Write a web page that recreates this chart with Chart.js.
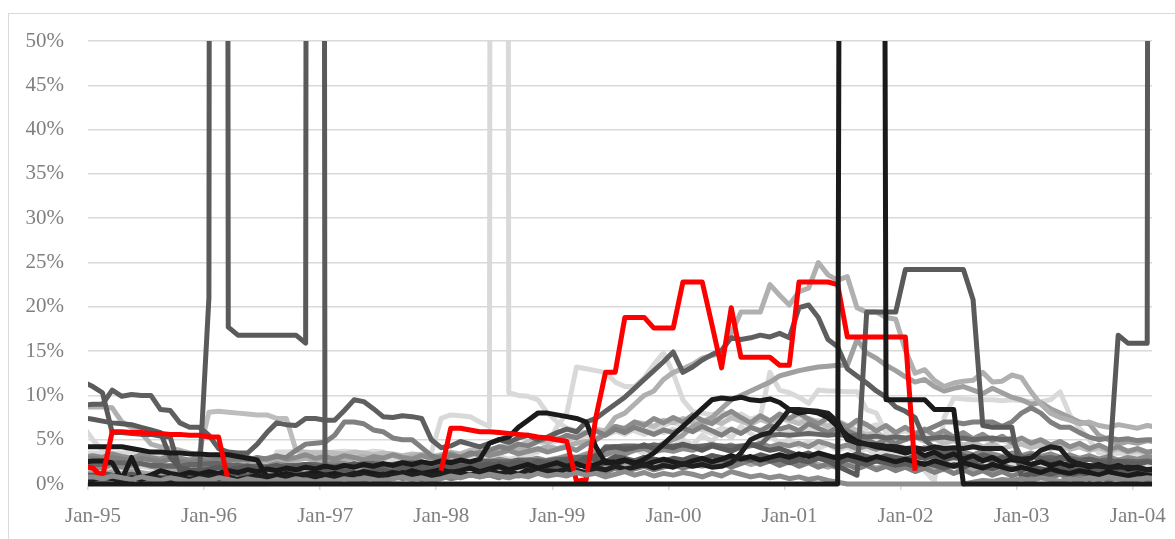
<!DOCTYPE html>
<html>
<head>
<meta charset="utf-8">
<title>Monthly rates, Jan-95 to Mar-04</title>
<script src="https://cdn.jsdelivr.net/npm/chart.js@4.4.1/dist/chart.umd.min.js"></script>
<style>
  html, body { margin: 0; padding: 0; background: #fff; overflow: hidden; }
  #frame { position: absolute; left: 8px; top: 13px; width: 1300px; height: 700px;
           border: 1.5px solid #d9d9d9; box-sizing: border-box; }
  #wrap { position: absolute; left: 0; top: 0; width: 1175px; height: 539px; }
</style>
</head>
<body>
<div id="frame"></div>
<div id="wrap"><canvas id="chart" width="1175" height="539"></canvas></div>
<script>
// one value per month, Dec-94 first, then Jan-95 ... Mar-04 (values in %)
const tickMonths = [0, 12, 24, 36, 48, 60, 72, 84, 96, 108];
const tickLabels = ["Jan-95", "Jan-96", "Jan-97", "Jan-98", "Jan-99", "Jan-00", "Jan-01", "Jan-02", "Jan-03", "Jan-04"];
const yTicks = [0, 5, 10, 15, 20, 25, 30, 35, 40, 45, 50];

const black1 = [0,
  0,0,0,0,0,0,0,0,0,0,0,0,
  0,0,0,0,0,0,0,0,0,0,0,0,
  0,0,0,0,0,0,0,0,0,0,0,0,
  0,0,0,0,0,0,0,0,0,0,0,0,
  0,0,0,0,0,0,0,0,0,0,0,0,
  0,0,0,0,0,0,0,0,0,0,0,0,
  0,0,0,0,0,0,400,400,400,400,9.5,9.5,
  9.5,9.5,9.5,8.4,8.4,8.4,0,0,0,0,0,0,
  0,0,0,0,0,0,0,0,0,0,0,0,
  0,0,0];

const zero1 = [0.8,
  0.8,0.6,0.9,0.7,0.5,0.8,0.6,0.4,0.7,0.5,0.3,0.6,
  0.4,0.7,0.5,0.3,0.6,0.4,0.2,0.5,0.3,0.6,0.4,0.2,
  0.5,0.3,0.6,0.4,0.7,0.5,0.3,0.6,0.8,0.5,0.7,0.4,
  0.6,0.9,0.7,1.0,0.8,1.1,0.9,0.7,1.0,0.8,1.2,0.9,
  1.1,0.9,1.3,1.0,1.2,0.8,1.1,1.4,1.0,1.3,0.9,1.2,
  1.0,1.3,1.1,0.8,1.2,0.9,1.4,1.1,0.8,1.0,0.7,0.9,
  0.6,0.8,0.5,0.7,0.4,0.2,0,0,0,0,0,0,
  0,0,0,0,0,0,0,0.2,0.4,0.3,0.5,0.4,
  0.6,0.4,0.7,0.5,0.3,0.6,0.4,0.7,0.5,0.8,0.6,0.4,
  0.5,0.7,0.6];

// red is hidden under the zero line while it is out of the market
const red = [2.0,
  1.8,0.8,5.9,5.9,5.8,5.8,5.7,5.7,5.6,5.6,5.5,5.5,
  5.3,5.3,0.3,null,null,null,null,null,null,null,null,null,
  null,null,null,null,null,null,null,null,null,null,null,null,
  1.5,6.3,6.3,6.1,5.9,5.9,5.8,5.7,5.6,5.5,5.3,5.2,
  5.0,4.8,0.3,0.5,7.5,12.6,12.6,18.8,18.8,18.8,17.6,17.6,
  17.6,22.8,22.8,22.8,18.0,13.1,19.9,14.3,14.3,14.3,14.3,13.4,
  13.4,22.8,22.8,22.8,22.8,22.5,16.6,16.6,16.6,16.6,16.6,16.6,
  16.6,1.5,null,null,null,null,null,null,null,null,null,null,
  null,null,null,null,null,null,null,null,null,null,null,null,
  null,null,null];

const black2 = [4.2,
  4.2,4.2,4.2,4.2,4.0,3.8,3.6,3.6,3.5,3.5,3.4,3.4,
  3.3,3.3,3.3,3.1,2.9,2.7,0.8,1.0,1.2,0.9,1.1,1.3,
  1.0,1.2,0.9,1.1,1.4,1.2,1.0,1.3,1.1,1.5,1.2,1.4,
  1.6,1.3,1.5,1.8,1.4,1.7,2.0,1.6,1.9,2.2,1.8,2.1,
  2.4,2.0,2.3,1.9,2.2,2.6,2.3,2.7,2.4,2.1,2.5,2.8,
  2.5,2.2,2.6,2.9,2.5,2.8,3.2,2.8,3.1,2.7,3.0,3.3,
  3.0,3.4,3.1,3.5,3.2,2.9,3.3,3.0,2.7,3.1,2.8,2.5,
  2.8,2.5,2.2,2.6,2.3,2.0,2.4,2.1,1.8,2.2,1.9,1.6,
  1.9,1.6,1.3,1.7,1.4,1.2,1.5,1.3,1.0,1.4,1.1,0.9,
  1.2,1.0,0.8];

const black3 = [2.5,
  2.6,2.6,2.4,0.5,3.0,0.6,1.0,1.5,1.2,1.0,1.3,1.1,
  1.4,1.2,1.5,1.3,1.6,1.4,1.7,1.5,1.8,1.6,1.9,1.7,
  2.0,1.8,2.1,1.9,2.2,2.0,2.3,2.1,2.4,2.2,2.5,2.3,
  2.6,2.4,2.7,2.5,2.8,4.6,5.0,5.3,6.4,7.2,8.0,8.0,
  7.8,7.6,7.4,7.0,4.2,2.4,2.5,2.7,2.3,2.8,3.5,4.5,
  5.5,6.5,7.5,8.5,9.5,9.7,9.6,9.8,9.5,9.4,9.6,9.2,
  8.4,8.0,8.2,8.0,7.5,6.5,5.5,4.8,4.5,4.2,4.0,3.8,
  3.5,3.8,3.2,3.6,3.0,3.4,2.8,3.2,2.6,3.0,2.4,2.8,
  2.6,2.2,2.5,2.1,2.4,2.0,2.3,1.9,2.2,1.8,2.1,1.7,
  1.9,1.6,1.8];

const black4 = [0.6,
  0.5,0.8,0.6,0.3,0.7,0.5,0.9,0.6,0.4,0.8,0.5,0.7,
  0.9,0.6,0.8,0.5,0.7,1.0,0.8,0.6,0.9,0.7,1.1,0.8,
  1.0,0.7,0.9,1.2,1.0,0.8,1.1,0.9,1.3,1.0,1.2,0.9,
  1.1,1.4,1.2,1.0,1.3,1.5,1.2,1.4,1.1,1.6,1.3,1.5,
  1.4,1.7,1.5,1.3,1.8,1.6,2.0,1.7,1.9,2.2,1.8,2.1,
  1.9,2.3,2.0,2.2,1.9,2.0,2.4,3.5,5.0,5.5,5.8,7.0,
  8.4,8.4,8.3,8.2,8.0,7.0,5.0,4.6,4.5,4.4,4.3,4.2,
  4.0,4.1,3.9,4.2,4.0,4.1,4.0,4.2,4.0,4.0,4.0,3.0,
  2.8,2.9,3.8,4.2,4.0,2.7,2.2,2.1,2.0,1.9,1.9,1.9,
  1.8,1.6,1.6];

const dark1 = [1.0,
  1.0,1.2,1.0,0.9,1.1,0.8,0.9,0.7,0.8,0.6,0.7,0.8,
  21,1000,17.7,16.8,16.8,16.8,16.8,16.8,16.8,16.8,15.9,1000,
  0.2,0.8,1.2,1.0,1.5,1.3,1.6,1.4,1.2,1.5,1.8,1.6,
  2.0,1.7,1.9,2.2,2.0,1.8,2.3,2.1,2.4,2.0,2.6,2.2,
  2.5,2.8,2.4,3.0,2.7,2.5,3.1,2.9,2.6,3.0,2.8,2.5,
  2.7,2.4,2.9,2.6,3.2,2.8,2.5,2.9,2.7,3.0,2.6,2.8,
  2.4,2.7,2.5,2.9,2.6,2.3,2.8,2.5,2.2,2.6,2.4,2.1,
  2.3,2.0,2.4,2.1,1.8,2.2,1.9,2.3,2.0,1.7,2.1,1.8,
  1.6,1.9,1.7,1.5,1.8,1.4,1.7,1.5,1.3,1.6,1.4,1.2,
  1.5,1.3,1.4];

const dark2 = [7.5,
  7.3,7.1,6.9,6.8,6.7,6.4,6.1,5.8,3.0,1.8,1.6,1.5,
  1.7,1.9,1.6,1.8,2.0,1.7,1.9,2.1,1.8,2.0,2.2,1.9,
  2.1,1.8,2.0,2.3,2.1,1.9,2.2,2.0,1.8,2.1,1.9,1.7,
  1.9,2.2,2.0,1.8,2.1,2.3,2.0,2.2,2.5,2.3,2.1,2.4,
  2.2,2.5,2.3,2.8,3.2,4.0,4.2,3.9,4.1,4.4,4.0,4.3,
  4.1,4.5,4.2,3.8,4.3,4.0,3.7,4.2,4.5,4.1,3.8,4.0,
  3.6,3.2,3.5,3.0,2.6,2.0,1.5,1.0,19.4,19.4,19.4,19.4,
  24.2,24.2,24.2,24.2,24.2,24.2,24.2,20.8,6.6,6.4,6.4,6.4,
  0.8,1.2,0.9,1.1,1.4,1.0,1.3,1.1,0.8,1.2,1.0,0.9,
  1.1,0.8,1.0];

const dark3 = [11.5,
  11.0,10.3,5.8,5.8,5.7,5.6,5.6,5.4,5.3,1.5,1.2,1.0,
  0.8,1.0,1.3,1.1,0.9,1.2,1.0,0.8,1.1,1.3,1.0,1.2,
  1.4,1.2,1.5,1.3,1.1,1.4,1.6,1.3,1.5,1.7,1.4,1.6,
  1.8,1.5,1.7,2.0,1.8,1.6,1.9,1.7,2.1,1.9,1.7,2.0,
  1.8,2.1,1.9,2.3,2.0,2.4,2.2,2.6,2.3,2.5,2.8,2.6,
  2.9,2.7,3.1,2.8,3.2,3.0,2.7,3.1,2.9,3.3,3.0,2.8,
  3.1,2.9,3.3,3.0,2.7,3.2,2.9,3.4,3.1,2.8,3.2,3.0,
  2.8,3.1,2.9,3.2,2.7,3.0,2.8,2.5,2.9,2.6,3.0,2.7,
  2.5,2.2,2.6,2.3,2.0,2.4,2.1,1.8,1.5,0.8,16.8,15.9,
  15.9,15.9,1000];

const dark5 = [8.9,
  9.0,9.0,10.6,9.9,10.1,10.0,10.0,8.4,8.3,6.9,6.4,6.4,
  5.5,4.0,3.6,3.5,3.5,4.5,5.8,6.9,6.7,6.6,7.4,7.4,
  7.2,7.2,8.3,9.5,9.3,8.5,7.6,7.5,7.7,7.6,7.4,5.0,
  4.1,4.3,4.8,4.5,4.2,4.6,5.0,4.7,5.2,5.5,5.0,5.3,
  5.8,6.2,5.9,7.0,7.4,8.2,9.0,9.8,10.8,11.8,12.8,13.8,
  14.9,12.6,13.2,14.0,14.6,15.1,16.5,16.3,16.5,16.8,16.6,17.0,
  16.5,19.9,20.2,18.8,16.3,15.5,13.0,12.2,11.4,10.5,9.8,8.7,
  8.2,7.5,5.0,4.0,3.5,3.8,3.2,2.9,3.3,3.0,2.7,3.1,
  2.8,3.2,2.9,2.6,3.0,2.7,2.4,2.8,2.5,2.3,2.6,2.4,
  2.2,2.5,2.3];

const dark7 = [2.2,
  2.2,2.2,2.4,2.4,2.3,2.3,2.1,2.1,2.0,2.0,2.2,2.2,
  2.3,2.3,2.1,2.1,2.0,2.0,1.9,1.9,2.1,2.1,2.2,2.2,
  2.0,2.0,2.1,2.1,2.3,2.3,2.2,2.2,2.4,2.4,2.3,2.3,
  2.5,2.5,2.4,2.4,2.6,2.6,2.5,2.5,2.7,2.7,2.6,2.6,
  2.8,2.8,3.0,3.0,2.9,4.2,4.2,4.3,4.3,4.2,4.4,4.3,
  4.3,4.4,4.2,4.3,4.4,4.3,4.2,4.3,4.4,4.4,5.5,5.6,
  5.5,5.6,5.7,5.6,5.5,5.6,5.4,5.5,5.3,5.4,5.2,5.3,
  5.2,5.3,5.1,5.2,5.3,5.1,5.2,5.0,5.1,5.2,5.0,5.1,
  3.0,3.1,2.9,3.0,2.8,2.9,2.7,2.8,2.6,2.7,2.5,2.6,
  2.5,2.6,2.4];

const mid1 = [2.8,
  2.9,2.7,3.0,2.8,2.6,2.9,2.7,2.5,2.8,2.6,2.4,2.7,
  2.5,2.8,2.6,2.9,2.7,3.0,2.8,3.1,3.0,3.8,4.5,4.6,
  4.7,5.5,7.0,7.0,6.8,6.1,5.9,5.2,5.0,5.0,4.1,3.2,
  2.8,3.2,3.0,3.5,3.3,3.8,4.2,4.0,4.5,4.3,4.8,5.2,
  5.0,5.5,5.2,5.8,6.0,5.5,6.2,5.8,6.4,6.0,5.6,6.1,
  5.8,6.3,5.9,6.5,6.0,5.5,6.2,5.7,6.4,6.0,6.6,6.2,
  6.5,6.0,6.8,6.3,5.8,6.4,6.0,5.5,5.0,4.5,5.0,4.6,
  5.0,5.5,6.0,6.5,7.0,7.0,6.8,7.0,7.0,7.0,6.5,7.0,
  8.0,8.6,8.0,7.0,6.4,6.4,5.8,5.3,5.0,5.2,5.0,5.1,
  4.9,5.0,5.0];

const mid3 = [1.8,
  2.0,1.8,2.2,1.9,2.1,2.3,2.0,1.8,2.1,1.9,2.2,2.0,
  1.8,2.0,2.2,1.9,2.1,1.8,2.0,2.3,2.1,1.9,2.2,2.0,
  2.2,2.5,2.3,2.1,2.4,2.6,2.3,2.1,2.4,2.7,2.5,2.2,
  2.0,2.3,2.6,2.4,2.2,2.5,2.8,2.6,2.4,2.7,2.9,2.6,
  2.8,3.1,2.9,3.2,3.5,3.3,3.7,3.4,3.8,4.0,3.6,3.9,
  3.7,4.0,3.8,4.2,4.5,4.1,4.4,4.0,4.3,4.6,4.2,4.5,
  4.3,4.6,4.2,4.8,4.5,4.1,4.4,4.0,4.3,3.9,4.2,3.8,
  4.0,3.7,4.1,3.8,3.5,3.9,3.6,3.3,3.7,3.4,3.1,3.5,
  3.2,3.5,3.1,3.4,3.0,3.3,2.9,3.2,2.8,3.1,2.7,3.0,
  2.8,3.1,2.9];

const mid4 = [0.4,
  0.5,0.3,0.6,0.4,0.7,0.5,0.3,0.6,0.4,0.2,0.5,0.3,
  0.6,0.4,0.2,0.5,0.3,0.6,0.4,0.7,0.5,0.3,0.6,0.4,
  0.7,0.5,0.8,0.6,0.4,0.7,0.5,0.9,0.6,0.8,0.5,0.7,
  0.9,0.6,0.8,1.1,0.8,1.0,0.7,1.2,0.9,1.1,1.4,1.0,
  1.3,1.0,1.5,1.2,1.6,1.3,1.8,1.4,1.7,2.0,1.6,1.9,
  2.2,1.8,2.1,2.5,2.0,2.4,1.9,2.3,2.7,2.2,2.6,2.1,
  2.5,2.0,2.4,1.9,2.3,1.8,2.2,1.7,2.1,1.6,2.0,1.5,
  1.9,1.4,1.8,1.3,1.7,1.2,1.6,1.1,1.5,1.0,1.4,0.9,
  1.3,0.8,1.2,0.7,1.1,0.6,1.0,0.5,0.9,0.4,0.8,0.3,
  0.7,0.5,0.6];

const mid7 = [3.0,
  3.2,3.0,3.4,3.1,2.9,3.3,3.0,2.8,3.2,2.9,2.7,3.0,
  2.8,3.1,2.9,2.6,3.0,2.7,2.9,3.2,2.8,3.0,3.3,2.9,
  3.1,2.8,3.2,3.0,2.7,3.1,2.9,3.3,3.0,2.8,3.2,2.9,
  3.1,3.4,3.0,3.3,3.6,3.2,3.5,3.8,3.4,3.7,4.0,3.6,
  3.9,4.2,3.8,4.5,5.0,5.6,6.5,6.2,7.0,6.6,7.4,6.9,
  7.5,7.0,7.8,7.2,6.8,7.6,8.2,7.5,6.9,7.7,7.1,7.9,
  7.4,8.0,7.3,6.8,7.5,7.0,6.4,7.2,6.7,6.0,6.6,5.8,
  6.4,5.7,6.2,5.5,6.0,5.3,5.8,5.1,5.6,4.9,5.4,4.7,
  5.2,4.6,5.0,4.4,4.8,4.2,4.6,4.0,4.4,3.9,4.2,3.7,
  4.0,3.6,3.8];

const grey25 = [8.7,
  8.7,8.7,8.6,7.0,6.4,5.8,4.5,4.2,4.0,3.8,3.5,3.2,
  3.0,2.8,2.6,2.5,2.7,2.4,2.6,2.8,2.5,2.7,2.9,2.6,
  2.8,3.0,2.7,2.9,3.1,2.8,3.0,3.2,2.9,3.1,3.3,3.0,
  3.2,3.5,3.3,3.6,3.4,3.7,3.5,3.8,4.0,3.7,3.9,4.2,
  4.0,4.3,4.6,4.8,5.0,6.0,7.5,8.0,9.0,10.0,10.5,11.8,
  12.6,13.0,13.5,14.2,14.5,14.8,17.0,19.4,19.4,19.4,22.5,21.3,
  20.2,21.7,22.1,25.0,23.6,23.0,23.4,19.9,19.4,19.4,18.8,18.6,
  15.1,12.5,12.9,11.7,11.0,11.4,11.6,11.7,12.6,11.5,11.6,12.3,
  12.0,10.4,9.0,8.0,7.5,7.2,6.8,7.0,6.6,6.4,6.7,6.5,
  6.3,6.6,6.4];

const grey13 = [1.0,
  1.1,0.9,1.2,1.0,1.3,1.1,0.9,1.2,1.0,1.4,1.2,1.0,
  1.3,1.1,1.4,1.2,1.0,1.3,1.5,1.2,1.4,1.1,1.3,1.6,
  1.4,1.2,1.5,1.7,1.4,1.6,1.3,1.5,1.8,1.6,1.4,1.7,
  1.9,1.6,1.8,2.1,1.9,2.2,2.0,2.4,2.1,2.5,2.3,2.7,
  2.9,3.2,3.0,3.4,3.7,3.5,3.9,4.2,4.0,4.4,4.1,4.6,
  5.0,5.5,6.5,7.0,7.5,8.5,9.5,10.0,10.5,11.0,11.5,12.2,
  12.5,12.8,13.0,13.2,13.3,13.4,13.4,16.3,14.8,14.2,13.4,12.8,
  12.1,11.5,11.8,11.0,10.5,10.8,11.0,10.6,10.2,10.8,10.3,9.8,
  9.5,9.0,9.2,8.5,8.0,7.5,7.0,6.8,5.5,5.0,4.5,4.8,
  4.6,4.9,4.7];

const grey2 = [1.2,
  1.3,1.1,1.4,1.2,1.5,1.3,1.1,1.4,1.6,1.3,1.5,1.2,
  1.4,1.6,1.3,1.5,1.7,1.4,1.2,1.5,1.3,1.6,1.8,1.5,
  1.7,1.4,1.6,1.9,1.7,1.5,1.8,1.6,1.4,1.7,1.9,1.6,
  1.8,2.1,1.9,1.7,2.0,2.2,1.9,2.1,1.8,2.0,2.3,2.0,
  2.2,1.9,2.1,2.4,2.2,1.9,2.3,2.0,2.5,2.2,2.0,2.4,
  2.1,2.5,2.2,2.0,2.4,2.7,2.3,2.6,2.2,2.5,2.8,2.4,
  2.7,2.3,2.6,2.2,1.9,2.3,2.0,2.4,2.1,1.8,2.2,1.9,
  2.1,1.8,2.2,1.9,1.6,2.0,1.7,1.5,1.9,1.6,1.4,1.8,
  1.5,1.3,1.7,1.4,1.2,1.6,1.3,1.1,1.5,1.2,1.0,1.4,
  1.1,1.3,1.0];

const silver8 = [2.5,
  2.4,2.6,2.3,2.5,2.2,2.4,2.1,2.3,2.0,2.2,2.4,3.5,
  8.1,8.2,8.1,8.0,7.9,7.8,7.8,7.4,7.4,3.8,3.6,3.5,
  3.6,3.5,3.4,3.6,3.5,3.3,3.5,3.4,3.2,3.4,3.3,3.1,
  3.3,3.6,3.4,3.8,4.0,3.7,4.2,4.5,4.3,4.8,5.0,4.7,
  5.2,4.9,5.5,5.8,6.2,6.0,6.5,6.3,7.0,6.8,6.5,7.2,
  6.9,7.4,7.0,6.6,7.2,6.8,7.5,7.1,6.7,7.3,6.9,7.5,
  7.2,6.8,7.4,7.0,6.5,7.1,6.6,6.0,5.5,5.8,5.2,5.5,
  5.0,5.3,4.8,5.1,4.6,4.9,4.4,4.7,4.2,4.5,4.0,4.3,
  4.5,4.1,4.4,4.0,4.3,3.9,4.2,3.8,4.1,3.7,4.0,3.6,
  3.8,3.5,3.7];

const light1 = [3.5,
  3.5,3.5,3.5,3.5,3.6,3.5,3.6,3.4,0.2,0,0,0,
  0,0,0,0,0,0,0,3.6,3.6,3.7,3.5,3.6,
  3.5,3.6,3.7,3.6,3.5,3.7,3.6,0.2,0,0,0,3.5,
  7.4,7.8,7.7,7.6,7.0,6.5,1000,10.3,10.0,9.9,9.5,8.0,
  7.0,6.3,6.0,5.8,6.2,5.5,5.9,6.3,6.0,5.6,6.1,5.8,
  6.2,5.9,6.5,6.1,5.7,6.3,6.0,5.8,6.4,6.1,5.9,6.2,
  6.0,5.8,6.2,5.9,6.3,6.0,5.7,6.1,5.8,5.5,5.2,4.5,
  4.0,3.5,3.0,2.6,3.0,2.5,2.8,2.4,2.7,2.3,2.6,2.2,
  2.5,2.1,2.4,2.0,2.3,1.9,2.2,1.8,2.1,1.7,2.0,1.8,
  1.6,1.9,1.7];

const light2 = [1.5,
  1.5,1.8,1.6,1.9,1.7,2.0,1.8,1.6,1.9,1.7,2.0,1.8,
  2.0,1.8,2.1,1.9,2.2,2.0,1.8,2.1,1.9,2.2,2.0,2.3,
  2.1,2.4,2.2,2.5,2.3,2.1,2.4,2.6,2.3,2.5,2.2,2.4,
  2.6,2.3,2.5,2.8,2.6,2.9,3.1,2.8,3.0,3.3,3.6,4.5,
  6.5,8.0,13.2,13.0,12.8,12.6,11.5,11.0,11.0,12.0,13.5,14.8,
  12.5,9.5,8.2,8.0,7.8,8.2,7.5,7.9,7.3,7.7,7.2,7.5,
  7.0,7.4,6.8,7.2,6.6,7.0,6.5,6.9,6.3,6.7,6.1,5.8,
  6.0,5.5,5.8,5.2,5.6,5.0,5.4,4.8,5.2,4.6,5.0,4.5,
  4.8,4.3,4.6,4.1,4.4,3.9,4.2,3.8,4.0,3.6,3.9,3.5,
  3.7,3.4,3.6];

const light5 = [6.5,
  5.0,3.8,3.0,2.8,3.0,2.6,2.9,3.1,2.7,2.5,2.8,2.6,
  2.4,2.2,2.5,2.0,1.8,2.1,1.9,2.2,2.0,2.3,2.1,1.9,
  2.2,2.5,2.3,2.6,2.8,2.5,2.9,3.2,3.0,2.7,3.1,2.9,
  3.3,3.0,3.4,3.8,3.5,3.9,4.2,4.0,4.5,4.2,4.8,4.5,
  4.9,5.2,4.8,5.5,5.1,5.8,6.0,5.6,6.2,5.9,6.4,6.6,
  7.0,6.5,7.2,6.8,7.5,6.9,7.4,7.8,7.2,7.6,12.6,10.6,
  10.3,9.8,9.1,10.6,10.5,10.5,10.4,10.4,8.4,8.0,5.8,3.5,
  3.0,3.5,1.5,0.3,7.5,9.7,9.6,9.5,9.5,9.5,9.4,9.5,
  9.4,9.3,9.3,9.5,10.4,7.8,6.3,5.0,3.5,3.4,3.5,3.4,
  3.5,3.4,3.5];

const light6 = [0.8,
  0.9,1.2,1.0,0.7,1.1,0.8,1.3,1.0,0.6,0.9,1.2,0.8,
  1.0,0.7,1.1,1.4,1.0,0.8,1.2,0.9,1.3,1.1,0.7,1.0,
  1.2,0.9,1.4,1.1,0.8,1.2,1.5,1.1,0.9,1.3,1.0,1.4,
  1.1,1.5,1.2,1.8,1.4,1.0,1.6,1.3,1.9,1.5,1.2,1.7,
  2.0,1.6,2.4,2.9,2.2,3.5,2.8,3.2,4.0,3.4,4.5,3.8,
  4.2,5.0,4.4,5.5,4.8,6.0,5.2,6.5,5.7,5.0,5.5,4.6,
  5.0,4.3,4.8,4.0,4.5,3.8,4.2,3.5,4.0,3.2,3.6,3.0,
  3.4,2.8,3.2,2.6,3.0,2.4,2.8,2.2,2.6,2.0,2.4,1.9,
  2.2,1.8,2.1,1.6,2.0,1.5,1.9,1.4,1.8,1.3,1.7,1.2,
  1.5,1.2,1.4];

// first entry is drawn on top
const seriesList = [
  { values: black1, color: "#1a1a1a" },
  { values: zero1, color: "#8c8c8c" },
  { values: red, color: "#ff0000" },
  { values: black4, color: "#1f1f1f" },
  { values: black3, color: "#1a1a1a" },
  { values: black2, color: "#1a1a1a" },
  { values: dark1, color: "#5a5a5a" },
  { values: dark3, color: "#5a5a5a" },
  { values: dark2, color: "#5a5a5a" },
  { values: dark5, color: "#5f5f5f" },
  { values: dark7, color: "#666666" },
  { values: mid1, color: "#808080" },
  { values: mid3, color: "#8c8c8c" },
  { values: mid4, color: "#7f7f7f" },
  { values: mid7, color: "#8c8c8c" },
  { values: grey25, color: "#b0b0b0" },
  { values: grey13, color: "#a0a0a0" },
  { values: grey2, color: "#a6a6a6" },
  { values: silver8, color: "#bdbdbd" },
  { values: light1, color: "#d9d9d9" },
  { values: light2, color: "#d9d9d9" },
  { values: light5, color: "#d9d9d9" },
  { values: light6, color: "#d9d9d9" }
];

const axisFont = { family: "'Liberation Serif', 'Times New Roman', serif", size: 21 };
const axisColor = "#7f7f7f";

new Chart(document.getElementById("chart"), {
  type: "line",
  data: {
    datasets: seriesList.map((s, i) => ({
      data: s.values.map((v, j) => ({ x: j - 0.5, y: v })),
      order: i,
      borderColor: s.color,
      backgroundColor: s.color,
      borderWidth: 5,
      pointRadius: 0,
      tension: 0,
      fill: false,
      spanGaps: false,
      borderJoinStyle: "round",
      clip: { left: 0, top: 0, right: 0, bottom: 5 }
    }))
  },
  options: {
    responsive: false,
    animation: false,
    events: [],
    layout: { padding: { left: 0, top: 41, right: 17, bottom: 0 } },
    plugins: { legend: { display: false }, tooltip: { enabled: false } },
    scales: {
      x: {
        type: "linear",
        min: 0,
        max: 110,
        afterBuildTicks: (axis) => { axis.ticks = tickMonths.map((v) => ({ value: v })); },
        afterFit: (axis) => { axis.height = 55; },
        ticks: {
          autoSkip: false,
          maxRotation: 0,
          padding: 14,
          labelOffset: 5,
          color: axisColor,
          font: axisFont,
          callback: (v) => tickLabels[tickMonths.indexOf(v)]
        },
        grid: { drawOnChartArea: false, drawTicks: true, tickLength: 6, color: "#d9d9d9", lineWidth: 1.5 },
        border: { display: true, color: "#d9d9d9", width: 1.5 }
      },
      y: {
        min: 0,
        max: 50,
        afterBuildTicks: (axis) => { axis.ticks = yTicks.map((v) => ({ value: v })); },
        afterFit: (axis) => { axis.width = 88; },
        ticks: {
          padding: 24,
          color: axisColor,
          font: axisFont,
          callback: (v) => v + "%"
        },
        grid: { color: "#d9d9d9", lineWidth: 1.5, drawTicks: false },
        border: { display: false }
      }
    }
  }
});
</script>
</body>
</html>
